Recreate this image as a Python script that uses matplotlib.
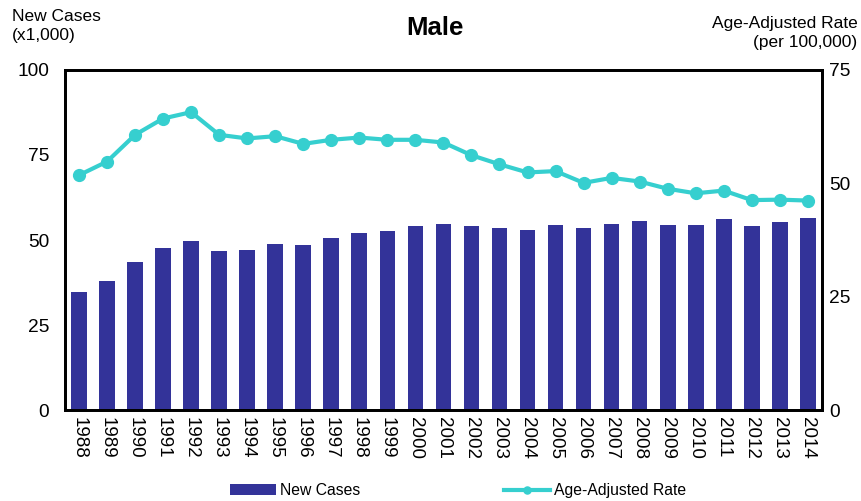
import matplotlib
matplotlib.use("Agg")
import matplotlib.pyplot as plt
import numpy as np

plt.rcParams['font.family'] = ['Liberation Sans', 'DejaVu Sans']

## data
years = [str(y) for y in range(1988, 2015)]
new_cases = [34.8, 37.9, 43.5, 47.6, 49.6, 46.8, 47.1, 48.7, 48.5, 50.6,
             52.0, 52.7, 54.0, 54.7, 54.1, 53.5, 53.0, 54.3, 53.4, 54.8,
             55.5, 54.4, 54.4, 56.1, 54.0, 55.4, 56.4]
rate = [51.8, 54.8, 60.7, 64.3, 65.7, 60.7, 59.9, 60.4, 58.7, 59.6,
        60.1, 59.6, 59.6, 59.0, 56.2, 54.2, 52.4, 52.7, 50.1, 51.2,
        50.4, 48.8, 47.8, 48.4, 46.3, 46.4, 46.2]

bar_color = '#333399'
line_color = '#36CFCF'

fig = plt.figure(figsize=(8.61, 5.01), dpi=100)
ax = fig.add_axes([0.0755, 0.1816, 0.879, 0.6787])
ax2 = ax.twinx()

x = np.arange(len(years))
ax.bar(x, new_cases, width=0.56, color=bar_color, label='New Cases', zorder=2)
ax2.plot(x, rate, color=line_color, lw=3, marker='o', ms=8.5,
         label='Age-Adjusted Rate', zorder=3)

ax.set_xlim(-0.5, len(years) - 0.5)
ax.set_ylim(0, 100)
ax2.set_ylim(0, 75)
ax.set_yticks([0, 25, 50, 75, 100])
ax2.set_yticks([0, 25, 50, 75])
ax.set_xticks(x)
ax.set_xticklabels(years, rotation=-90, fontsize=13.5)

ax.tick_params(axis='y', length=0, pad=11.5, labelsize=13.8)
ax2.tick_params(axis='y', length=0, pad=5, labelsize=13.8)
ax.tick_params(axis='x', length=0, pad=5)

for a in (ax, ax2):
    for s in a.spines.values():
        s.set_linewidth(2)
        s.set_color('black')

## titles
fig.text(0.505, 0.944, 'Male', ha='center', va='center', fontsize=18.5, fontweight='bold')
fig.text(0.014, 0.982, 'New Cases\n(x1,000)', ha='left', va='top', fontsize=12.5, linespacing=1.35)
fig.text(0.996, 0.968, 'Age-Adjusted Rate\n(per 100,000)', ha='right', va='top', fontsize=12.5,
         multialignment='right', linespacing=1.35)

## legend
h1, l1 = ax.get_legend_handles_labels()
h2, l2 = ax2.get_legend_handles_labels()
fig.legend(h1 + h2, l1 + l2, loc='center', bbox_to_anchor=(0.532, 0.02), ncol=2,
           frameon=False, fontsize=11.3, handlelength=2.9, handletextpad=0.25,
           columnspacing=9.2, markerscale=0.6)

plt.savefig('out.png', dpi=100)
